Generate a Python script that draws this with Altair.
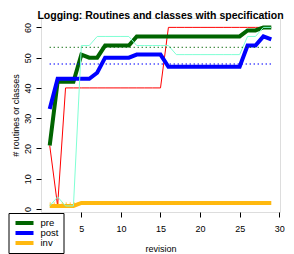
import altair as alt
import pandas as pd

# ---- data ----
revision = list(range(1, 30))
pre = [21, 42, 42, 42, 51, 50, 50, 54, 54, 54, 54, 57, 57, 57, 57, 57, 57, 57, 57,
       57, 57, 57, 57, 57, 57, 59, 59, 60, 60]
post = [33, 43, 43, 43, 43, 43, 45, 50, 50, 50, 50, 51, 51, 51, 51, 47, 47, 47, 47,
        47, 47, 47, 47, 47, 47, 54, 54, 57, 56]
inv = [1, 1, 1, 1, 2, 2, 2, 2, 2, 2, 2, 2, 2, 2, 2, 2, 2, 2, 2,
       2, 2, 2, 2, 2, 2, 2, 2, 2, 2]
red_series = [21, 1, 40, 40, 40, 40, 40, 40, 40, 40, 40, 40, 40, 40, 40, 60, 60, 60, 60,
              60, 60, 60, 60, 60, 60, 60, 60, 60, 60]
aqua_series = [1, 4, 1, 1, 54, 54, 57, 57, 57, 57, 57, 54, 54, 54, 54, 54, 51, 51, 51,
               51, 51, 51, 51, 51, 51, 57, 57, 60, 60]

legend_names = ["pre", "post", "inv"]
legend_colors = ["#006400", "#0000FF", "#FFB90F"]
mean_values = [53.4, 47.9, 1.9]
mean_start = [1, 1, 1]
mean_end = [29, 29, 29]

x_ticks = [5, 10, 15, 20, 25, 30]
y_ticks = [0, 10, 20, 30, 40, 50, 60]

FONT = "Liberation Sans"

# ---- tables ----
def series_df(values, name):
    return pd.DataFrame({"revision": revision, "value": values, "series": name})

df_pre = series_df(pre, "pre")
df_post = series_df(post, "post")
df_inv = series_df(inv, "inv")
df_red = series_df(red_series, "red")
df_aqua = series_df(aqua_series, "aqua")
df_mean = pd.DataFrame({"series": legend_names, "value": mean_values,
                        "revision": mean_start, "revision_end": mean_end})

x_enc = alt.X("revision:Q",
              scale=alt.Scale(domain=[-0.1, 30.1], nice=False, zero=False),
              axis=alt.Axis(values=x_ticks, title="revision", grid=False, domain=False,
                            tickSize=5, tickColor="black", labelColor="black",
                            labelFont=FONT, labelFontSize=9, labelPadding=7,
                            titleFont=FONT, titleFontSize=9, titleFontWeight="normal",
                            titleColor="black", titlePadding=11, labelFlush=False))
y_enc = alt.Y("value:Q",
              scale=alt.Scale(domain=[-1.0, 63.1], nice=False, zero=False),
              axis=alt.Axis(values=y_ticks, title="# routines or classes", grid=False,
                            domain=False, tickSize=5, tickColor="black",
                            labelColor="black", labelFont=FONT, labelFontSize=9,
                            labelAngle=-90, labelAlign="center", labelBaseline="bottom",
                            labelPadding=4, titleFont=FONT, titleFontSize=9,
                            titleFontWeight="normal", titleColor="black", titlePadding=3,
                            labelFlush=False))

color_scale = alt.Scale(domain=legend_names, range=legend_colors)
legend = alt.Legend(title=None, orient="none", legendX=-32.5, legendY=195,
                    symbolType="stroke", symbolStrokeWidth=4, symbolSize=324,
                    clipHeight=10, labelFont=FONT, labelFontSize=9.5, labelColor="black",
                    fillColor="white", strokeColor="black", padding=5,
                    rowPadding=0, labelOffset=5)
color_enc = alt.Color("series:N", scale=color_scale, legend=legend)

red_layer = alt.Chart(df_red).mark_line(color="#FF0000", strokeWidth=1).encode(
    x=x_enc, y=y_enc)
pre_layer = alt.Chart(df_pre).mark_line(strokeWidth=4, strokeJoin="miter").encode(
    x=x_enc, y=y_enc, color=color_enc)
post_layer = alt.Chart(df_post).mark_line(strokeWidth=4, strokeJoin="miter").encode(
    x=x_enc, y=y_enc, color=color_enc)
inv_layer = alt.Chart(df_inv).mark_line(strokeWidth=4, strokeJoin="miter").encode(
    x=x_enc, y=y_enc, color=color_enc)
aqua_layer = alt.Chart(df_aqua).mark_line(color="#7FFFD4", strokeWidth=1).encode(
    x=x_enc, y=y_enc)
mean_layer = alt.Chart(df_mean).mark_rule(strokeWidth=1.3, strokeDash=[1, 3]).encode(
    x=x_enc, x2="revision_end:Q", y=y_enc, color=color_enc)

chart = alt.layer(red_layer, pre_layer, post_layer, inv_layer, aqua_layer, mean_layer).properties(
    width=239, height=194,
    title=alt.TitleParams("Logging: Routines and classes with specification",
                          font=FONT, fontSize=10.5, fontWeight="bold", color="black",
                          anchor="middle", offset=0, dy=3),
    autosize=alt.AutoSizeParams(type="none"),
    padding={"left": 33, "top": 10, "right": 6, "bottom": 42},
).configure_view(stroke="black", strokeWidth=1).configure(background="white")

chart.save("out.html", embed_options={"renderer": "svg", "actions": False})
